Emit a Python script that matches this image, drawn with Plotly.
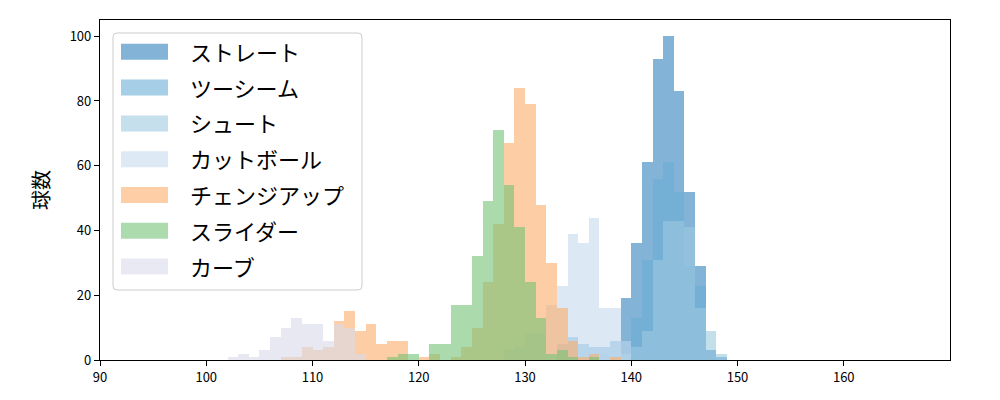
import plotly.graph_objects as go

# ---- data (bin = 1 km/h, first bin start given per pitch) ----
pitch_names = ["ストレート", "ツーシーム", "シュート", "カットボール", "チェンジアップ", "スライダー", "カーブ"]
bin_starts = [139, 133, 137, 128, 107, 117, 102]
straight = [19, 36, 61, 93, 100, 83, 52, 29, 3, 1]
two_seam = [5, 7, 5, 4, 4, 6, 6, 13, 31, 56, 61, 52, 29, 23, 3]
shoot = [2, 0, 2, 4, 9, 31, 43, 43, 41, 16, 9, 2]
cutball = [3, 4, 8, 8, 17, 23, 39, 36, 44, 16, 16, 6]
changeup = [1, 1, 4, 3, 4, 12, 15, 9, 11, 5, 6, 6, 0, 1, 2, 0, 1, 4, 10, 24,
            42, 67, 84, 79, 48, 30, 16, 6, 1, 2, 0, 1]
slider = [1, 2, 2, 0, 5, 5, 17, 17, 32, 49, 71, 54, 41, 24, 13, 2, 3, 1, 0, 1]
curve = [1, 2, 1, 3, 7, 10, 13, 11, 11, 6, 11, 10, 2]
counts = [straight, two_seam, shoot, cutball, changeup, slider, curve]
x_ticks = [90, 100, 110, 120, 130, 140, 150, 160]
y_ticks = [0, 20, 40, 60, 80, 100]

# ---- styles ----
colors = ["#3182bd", "#6baed6", "#9ecae1", "#c6dbef", "#fdae6b", "#74c476", "#dadaeb"]
ALPHA = 0.6
FONT = "Noto Sans CJK JP, Noto Sans, DejaVu Sans"

fig = go.Figure()
for name, start, vals, col in zip(pitch_names, bin_starts, counts, colors):
    centers = [start + i + 0.5 for i in range(len(vals))]
    fig.add_trace(go.Bar(
        x=centers, y=vals, width=1.0, name=name,
        marker=dict(color=col, line=dict(width=0)),
        opacity=ALPHA, showlegend=False, hoverinfo="x+y+name",
    ))

# ---- custom matplotlib-like legend ----
L, R, T, B = 100, 950, 20, 360
def px(xp):
    return (xp - L) / (R - L)
def py(yp):
    return (B - yp) / (B - T)

x0, x1, y0, y1 = px(113), px(362), py(290), py(33)
rx, ry = 4 / (R - L), 4 / (B - T)
path = (f"M {x0+rx},{y1} L {x1-rx},{y1} Q {x1},{y1} {x1},{y1-ry} "
        f"L {x1},{y0+ry} Q {x1},{y0} {x1-rx},{y0} L {x0+rx},{y0} "
        f"Q {x0},{y0} {x0},{y0+ry} L {x0},{y1-ry} Q {x0},{y1} {x0+rx},{y1} Z")
shapes = [dict(type="path", path=path, xref="paper", yref="paper",
               fillcolor="rgba(255,255,255,0.8)", line=dict(color="#cccccc", width=1),
               layer="above")]
annotations = []
row0, step = 51.8, 35.8
for i, (name, col) in enumerate(zip(pitch_names, colors)):
    cy = row0 + i * step
    shapes.append(dict(type="rect", xref="paper", yref="paper",
                       x0=px(121), x1=px(168), y0=py(cy + 8), y1=py(cy - 8),
                       fillcolor=col, opacity=ALPHA, line=dict(width=0), layer="above"))
    annotations.append(dict(x=px(188), y=py(cy - 1), xref="paper", yref="paper",
                            text=name, showarrow=False, xanchor="left", yanchor="middle",
                            font=dict(family=FONT, size=22, color="#000000")))

fig.update_layout(
    width=1000, height=400,
    margin=dict(l=L, r=1000 - R, t=T, b=400 - B),
    paper_bgcolor="white", plot_bgcolor="white",
    barmode="overlay", bargap=0,
    shapes=shapes, annotations=annotations,
    font=dict(family=FONT, color="#000000"),
)
fig.update_xaxes(
    range=[90, 170], tickvals=x_ticks, ticktext=[str(v) for v in x_ticks],
    showline=True, mirror=True, linecolor="#000000", linewidth=1.2,
    ticks="outside", ticklen=5, tickwidth=1.2, tickcolor="#000000",
    showgrid=False, zeroline=False, tickfont=dict(size=13, family=FONT),
    automargin=False,
)
fig.update_yaxes(
    range=[0, 105], tickvals=y_ticks, ticktext=[str(v) for v in y_ticks],
    showline=True, mirror=True, linecolor="#000000", linewidth=1.2,
    ticks="outside", ticklen=5, tickwidth=1.2, tickcolor="#000000",
    showgrid=False, zeroline=False, tickfont=dict(size=13, family=FONT),
    title=dict(text="球数", font=dict(size=20, family=FONT), standoff=14),
    automargin=False,
)

fig.write_html("out.html", config={"displayModeBar": False},
               post_script="document.body.style.margin='0px';")
